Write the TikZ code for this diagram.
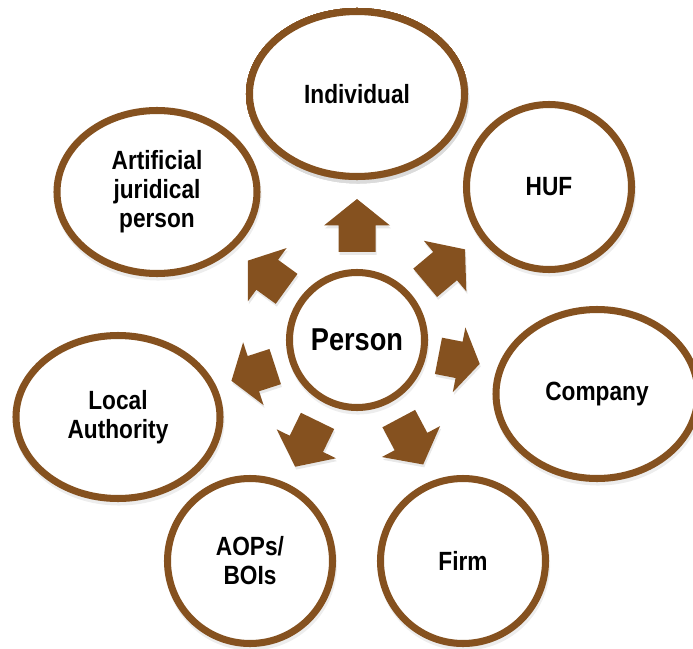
\documentclass[tikz,border=0pt]{standalone}
\usepackage{fontspec}
\setmainfont{Liberation Sans}[FakeStretch=0.86]
\usepackage{tikz}
\usetikzlibrary{shapes.geometric, shadows, positioning}
\definecolor{personbrown}{RGB}{133,81,31}
\tikzset{
	entity/.style={ellipse, draw=personbrown, line width=4pt, fill=white, inner sep=0pt, align=center,
		font=\fontsize{15}{16.5}\selectfont\bfseries,
		drop shadow={draw=black!14, fill=black!14, line width=4pt, shadow xshift=0.6pt, shadow yshift=-2pt}},
	blockfill/.style={fill=personbrown,
		drop shadow={fill=black!18, shadow xshift=0.6pt, shadow yshift=-1.6pt}}
}
\newcommand{\blockarrow}[3]{
	\fill[blockfill, rotate=#1] ({#2-#3},-0.37) -- ({#2-#3/2},-0.37) -- ({#2-#3/2},-0.66) -- (#2,0)
		-- ({#2-#3/2},0.66) -- ({#2-#3/2},0.37) -- ({#2-#3},0.37) -- cycle;
}

\begin{document}
\begin{tikzpicture}
			\useasboundingbox (-7.14,-6.16) rectangle (6.72,6.80);
			% Centre
			\node[entity, minimum size=2.7cm, font=\fontsize{18}{20}\selectfont\bfseries] (person) at (0,0) {Person};
			% Arrows out of the centre
			\foreach \ang/\tip/\len in {90/2.82/1.06, 40/2.82/1.04, -11/2.50/0.84, -62/2.82/1.04, -116/2.82/1.02, -162/2.64/0.92, 144/2.70/0.96}
				\blockarrow{\ang}{\tip}{\len}
			% Outer ring
			\node[entity, minimum width=4.3cm, minimum height=3.3cm] (individual) at (0,4.92) {Individual};
			\node[entity, minimum size=3.3cm] (huf) at (3.84,3.06) {HUF};
			\node[entity, minimum width=4.04cm, minimum height=3.38cm] (company) at (4.80,-1.08) {Company};
			\node[entity, minimum size=3.3cm] (firm) at (2.12,-4.42) {Firm};
			\node[entity, minimum size=3.3cm] (aops) at (-2.14,-4.42) {AOPs/\\BOIs};
			\node[entity, minimum width=4.08cm, minimum height=3.26cm] (local) at (-4.78,-1.54) {Local\\Authority};
			\node[entity, minimum width=4.0cm, minimum height=3.26cm] (artificial) at (-4.00,2.96) {Artificial\\juridical\\person};
\end{tikzpicture}
\end{document}
